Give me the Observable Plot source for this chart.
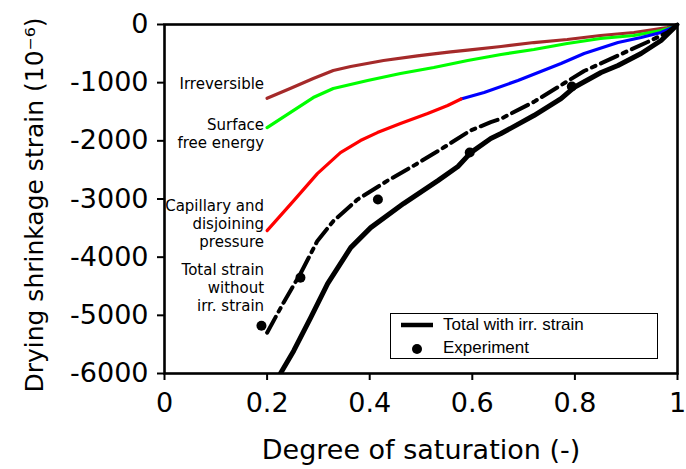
<!DOCTYPE html>
<html>
<head>
<meta charset="utf-8">
<script src="https://cdn.jsdelivr.net/npm/d3@7"></script>
<script src="https://cdn.jsdelivr.net/npm/@observablehq/plot@0.6"></script>
<style>
  html, body { margin: 0; padding: 0; background: #fff; }
  #wrap { position: relative; width: 686px; height: 469px; }
  #legend {
    position: absolute; left: 390px; top: 313px; width: 266px; height: 44px;
    border: 1.5px solid #000; background: #fff; font-family: "Liberation Sans", Arial, sans-serif;
    font-size: 17px; color: #000;
  }
  .row { position: absolute; left: 0; height: 22px; display: flex; align-items: center; }
  .row svg { position: absolute; left: 0; top: 0; }
  .row span { position: absolute; left: 52px; white-space: nowrap; line-height: 22px; }
</style>
</head>
<body>
<div id="wrap">
  <div id="chart"></div>
  <div id="legend">
    <div class="row" style="top:0px"><svg width="50" height="22"><line x1="10" x2="42" y1="11" y2="11" stroke="#000" stroke-width="4.5"/></svg><span id="lg0"></span></div>
    <div class="row" style="top:23px"><svg width="50" height="22"><circle cx="26" cy="12" r="5" fill="#000"/></svg><span id="lg1"></span></div>
  </div>
</div>
<script>
// ---- data ----
const irrS   = [0.2, 0.245, 0.29, 0.329, 0.363, 0.427, 0.493, 0.525, 0.558, 0.591, 0.656, 0.72, 0.785, 0.85, 0.915, 0.98, 1];
const irrE   = [-1268, -1101, -929, -791, -722, -619, -540, -505, -470, -440, -378, -310, -258, -189, -138, -52, 0];

const sfeS   = [0.2, 0.245, 0.29, 0.329, 0.396, 0.46, 0.525, 0.591, 0.656, 0.72, 0.785, 0.85, 0.915, 0.968, 0.995, 1];
const sfeE   = [-1772, -1514, -1256, -1101, -963, -843, -740, -619, -516, -430, -327, -241, -189, -103, -34, 0];

const capS   = [0.2, 0.252, 0.298, 0.343, 0.382, 0.415, 0.46, 0.513, 0.552, 0.578];
const capE   = [-3544, -3028, -2563, -2202, -1995, -1858, -1703, -1531, -1393, -1280];

const capBS  = [0.578, 0.623, 0.689, 0.773, 0.818, 0.884, 0.929, 0.968, 0.995, 1];
const capBE  = [-1280, -1170, -963, -671, -499, -310, -224, -138, -34, 0];

const woS    = [0.2, 0.232, 0.265, 0.298, 0.329, 0.376, 0.435, 0.486, 0.544, 0.597, 0.636, 0.656, 0.72, 0.779, 0.818, 0.884, 0.948, 0.98, 1];
const woE    = [-5298, -4782, -4283, -3720, -3380, -3010, -2684, -2426, -2116, -1820, -1680, -1620, -1330, -1010, -800, -533, -275, -138, 0];

const totS   = [0.226, 0.252, 0.285, 0.318, 0.363, 0.402, 0.466, 0.533, 0.572, 0.597, 0.636, 0.656, 0.72, 0.773, 0.798, 0.851, 0.884, 0.929, 0.968, 1];
const totE   = [-6000, -5608, -5040, -4456, -3836, -3492, -3079, -2684, -2440, -2202, -1961, -1875, -1565, -1273, -1084, -826, -705, -499, -275, 0];

const expS   = [0.189, 0.265, 0.416, 0.595, 0.794];
const expE   = [-5178, -4352, -3010, -2202, -1067];

const xTicks = [0, 0.2, 0.4, 0.6, 0.8, 1];
const yTicks = [0, -1000, -2000, -3000, -4000, -5000, -6000];

const annText = ["Irreversible", "Surface\nfree energy", "Capillary and\ndisjoining\npressure", "Total strain\nwithout\nirr. strain"];
const annS    = [0.2, 0.2, 0.2, 0.2];
const annE    = [-1015, -1875, -3423, -4524];

const xLabel = "Degree of saturation (-)";
const yLabel = "Drying shrinkage strain (10\u207B\u2076)";
const legendLabels = ["Total with irr. strain", "Experiment"];

// ---- build ----
const zip = (xs, ys) => xs.map((x, i) => ({x, y: ys[i]}));
const ann = annText.map((t, i) => ({t, x: annS[i], y: annE[i]}));

const chart = Plot.plot({
  width: 686,
  height: 469,
  marginLeft: 164,
  marginRight: 9,
  marginTop: 24,
  marginBottom: 96,
  style: {fontFamily: "DejaVu Sans", fontSize: "27px", background: "#fff", overflow: "visible"},
  x: {domain: [0, 1]},
  y: {domain: [-6000, 0]},
  marks: [
    Plot.line(zip(irrS, irrE), {x: "x", y: "y", stroke: "#a52a2a", strokeWidth: 3.2}),
    Plot.line(zip(sfeS, sfeE), {x: "x", y: "y", stroke: "#00ff00", strokeWidth: 3.2}),
    Plot.line(zip(capBS, capBE), {x: "x", y: "y", stroke: "#0000ff", strokeWidth: 3.2}),
    Plot.line(zip(capS, capE), {x: "x", y: "y", stroke: "#ff0000", strokeWidth: 3.2}),
    Plot.line(zip(woS, woE), {x: "x", y: "y", stroke: "#000", strokeWidth: 4, strokeDasharray: "18,6,4,6"}),
    Plot.line(zip(totS, totE), {x: "x", y: "y", stroke: "#000", strokeWidth: 5, clip: true}),
    Plot.dot(zip(expS, expE), {x: "x", y: "y", r: 5, fill: "#000"}),
    Plot.text(ann, {x: "x", y: "y", text: "t", textAnchor: "end", dx: -3, fontSize: 15, lineHeight: 1.2, fill: "#000"}),
    Plot.axisX({ticks: xTicks, tickSize: 7, tickPadding: 12, strokeWidth: 2, fontSize: 27, label: null, tickFormat: d => String(d)}),
    Plot.axisY({ticks: yTicks, tickSize: 7, tickPadding: 9, strokeWidth: 2, fontSize: 27, label: null, tickFormat: d => String(d)}),
    Plot.frame({stroke: "#000", strokeWidth: 2.6}),
    Plot.text([xLabel], {frameAnchor: "bottom", lineAnchor: "top", dy: 66, fontSize: 27, fill: "#000"}),
    Plot.text([yLabel], {frameAnchor: "left", rotate: -90, textAnchor: "middle", lineAnchor: "middle", dx: -130, dy: 6, fontSize: 25, fill: "#000"})
  ]
});
document.getElementById("chart").appendChild(chart);
document.getElementById("lg0").textContent = legendLabels[0];
document.getElementById("lg1").textContent = legendLabels[1];
</script>
</body>
</html>
